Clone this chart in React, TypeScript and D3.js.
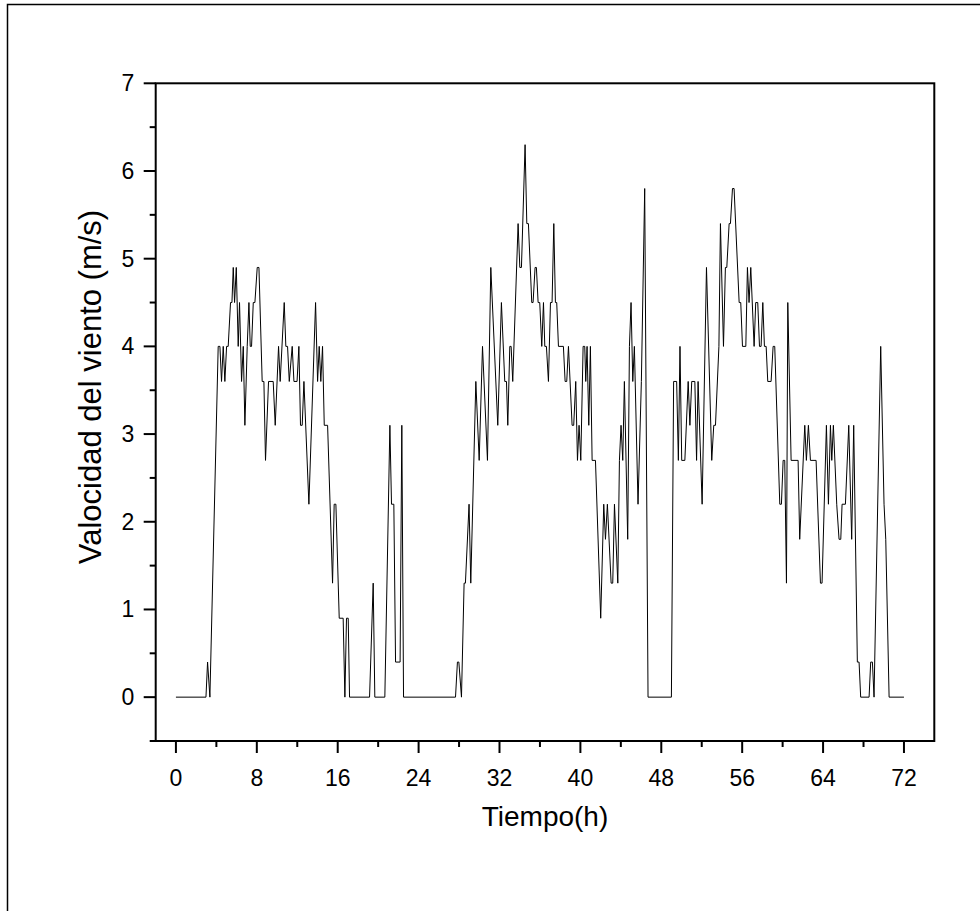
import React from 'react';
import * as d3 from 'd3';

// Wind speed series (vertices): time in hours, speed in m/s
const hours = [
  0, 2.97, 3.13, 3.36, 4.18, 4.35, 4.51, 4.68, 4.84, 5.01, 5.17, 5.40, 5.54, 5.67, 5.80, 5.97,
  6.16, 6.29, 6.49, 6.66, 6.82, 7.05, 7.22, 7.35, 7.48, 7.65, 7.81, 8.04, 8.21, 8.53, 8.70, 8.86,
  9.16, 9.62, 9.82, 10.15, 10.31, 10.71, 10.87, 11.04, 11.21, 11.50, 11.67, 11.98, 12.16, 12.32,
  12.49, 12.66, 13.15, 13.81, 14.01, 14.17, 14.33, 14.50, 14.67, 15.00, 15.49, 15.65, 15.82, 16.15,
  16.54, 16.71, 16.87, 17.04, 17.17, 19.15, 19.51, 19.67, 20.66, 21.16, 21.32, 21.55, 21.72, 22.17,
  22.34, 22.51, 27.65, 27.84, 27.98, 28.24, 28.50, 28.63, 28.99, 29.16, 29.66, 29.99, 30.32, 30.81,
  31.14, 31.83, 32.19, 32.52, 32.69, 32.82, 33.02, 33.15, 33.31, 33.84, 34.01, 34.17, 34.53, 34.70,
  34.86, 35.19, 35.32, 35.52, 35.65, 35.82, 35.98, 36.18, 36.35, 36.48, 36.64, 36.84, 37.04, 37.20,
  37.37, 37.53, 37.66, 37.83, 38.32, 38.49, 38.65, 38.82, 39.18, 39.34, 39.54, 39.71, 39.87, 40.04,
  40.27, 40.43, 40.53, 40.66, 40.83, 40.99, 41.16, 41.49, 42.01, 42.31, 42.48, 42.67, 43.04, 43.20,
  43.37, 43.70, 43.86, 44.02, 44.19, 44.35, 44.68, 44.85, 45.01, 45.18, 45.34, 45.70, 46.03, 46.36,
  46.69, 49.00, 49.22, 49.52, 49.69, 49.85, 50.02, 50.33, 50.66, 50.83, 51.01, 51.32, 51.49, 51.64,
  52.04, 52.47, 52.99, 53.19, 53.36, 53.70, 53.85, 54.15, 54.34, 54.48, 54.71, 54.84, 55.04, 55.20,
  55.70, 55.86, 56.03, 56.36, 56.52, 56.68, 56.85, 57.18, 57.34, 57.54, 57.71, 57.87, 58.04, 58.20,
  58.37, 58.53, 58.86, 59.06, 59.22, 59.72, 59.88, 60.05, 60.21, 60.38, 60.51, 60.84, 61.53, 61.69,
  62.19, 62.35, 62.55, 62.75, 63.31, 63.74, 63.90, 64.33, 64.53, 64.73, 64.86, 65.02, 65.35, 65.58,
  65.75, 65.88, 66.21, 66.54, 66.83, 67.03, 67.39, 67.56, 67.72, 68.55, 68.71, 68.88, 69.04, 69.70,
  70.03, 70.20, 70.53, 72.00,
];

const speed = [
  0, 0, 0.4, 0, 4.0, 4.0, 3.6, 4.0, 3.6, 4.0, 4.0, 4.5, 4.5, 4.9, 4.5, 4.9,
  4.0, 4.5, 3.6, 4.0, 3.1, 4.0, 4.5, 4.0, 4.0, 4.5, 4.5, 4.9, 4.9, 3.6, 3.6, 2.7,
  3.6, 3.6, 3.1, 4.0, 3.6, 4.5, 4.0, 4.0, 3.6, 4.0, 3.6, 3.6, 4.0, 3.1,
  3.1, 3.6, 2.2, 4.5, 3.6, 4.0, 3.6, 4.0, 3.1, 3.1, 1.3, 2.2, 2.2, 0.9,
  0.9, 0, 0.9, 0.9, 0, 0, 1.3, 0, 0, 3.1, 2.2, 2.2, 0.4, 0.4,
  3.1, 0, 0, 0.4, 0.4, 0, 1.3, 1.3, 2.2, 1.3, 3.6, 2.7, 4.0, 2.7,
  4.9, 3.1, 4.5, 3.6, 3.6, 3.1, 4.0, 4.0, 3.6, 5.4, 4.9, 4.9, 6.3, 5.4,
  5.4, 4.5, 4.5, 4.9, 4.9, 4.5, 4.5, 4.0, 4.5, 4.0, 4.0, 3.6, 4.5, 4.5,
  5.4, 4.5, 4.5, 4.0, 4.0, 3.6, 3.6, 4.0, 3.1, 3.1, 3.6, 2.7, 3.1, 2.7,
  4.0, 4.0, 3.6, 4.0, 3.1, 4.0, 2.7, 2.7, 0.9, 2.2, 1.8, 2.2, 1.3, 1.3,
  2.2, 1.3, 2.7, 3.1, 2.7, 3.6, 1.8, 4.0, 4.5, 3.6, 4.0, 2.2, 3.6, 5.8,
  0, 0, 3.6, 3.6, 2.7, 4.0, 2.7, 2.7, 3.6, 3.1, 3.6, 3.6, 2.7, 3.6,
  2.2, 4.9, 2.7, 3.1, 3.1, 4.0, 5.4, 4.0, 4.9, 4.9, 5.4, 5.4, 5.8, 5.8,
  4.5, 4.5, 4.0, 4.0, 4.9, 4.5, 4.9, 4.0, 4.5, 4.5, 4.0, 4.0, 4.5, 4.0,
  4.0, 3.6, 3.6, 4.0, 4.0, 2.2, 2.2, 2.7, 2.7, 1.3, 4.5, 2.7, 2.7, 1.8,
  3.1, 2.7, 3.1, 2.7, 2.7, 1.3, 1.3, 3.1, 2.2, 3.1, 2.7, 3.1, 2.2, 1.8,
  1.8, 2.2, 2.2, 3.1, 1.8, 3.1, 0.4, 0.4, 0, 0, 0.4, 0.4, 0, 4.0,
  2.2, 1.8, 0, 0,
];

const xMajorTicks = [0, 8, 16, 24, 32, 40, 48, 56, 64, 72];
const xMinorTicks = [4, 12, 20, 28, 36, 44, 52, 60, 68];
const yMajorTicks = [0, 1, 2, 3, 4, 5, 6, 7];
const yMinorTicks = [-0.5, 0.5, 1.5, 2.5, 3.5, 4.5, 5.5, 6.5];
const xTitle = 'Tiempo(h)';
const yTitle = 'Valocidad del viento (m/s)';

const FONT = '"Liberation Sans", Arial, Helvetica, sans-serif';

export default function App() {
  const W = 980;
  const H = 911;
  const left = 155.7;
  const right = 934.3;
  const top = 83.3;
  const bottom = 741;

  const x = d3.scaleLinear().domain([-2, 75]).range([left, right]);
  const y = d3.scaleLinear().domain([-0.5, 7]).range([bottom, top]);

  const pts: [number, number][] = hours.map((h, i) => [h, speed[i]]);
  const path = d3
    .line<[number, number]>()
    .x((d) => x(d[0]))
    .y((d) => y(d[1]))(pts) as string;

  const majorLen = 12;
  const minorLen = 6;

  return (
    <svg
      width={W}
      height={H}
      style={{ position: 'absolute', left: 0, top: 0, background: '#fff' }}
      xmlns="http://www.w3.org/2000/svg"
    >
      <rect x={0} y={0} width={W} height={H} fill="#fff" />
      {/* outer page frame */}
      <rect x={7.5} y={4.5} width={1100} height={1100} fill="none" stroke="#000" strokeWidth={1.5} />

      {/* data line */}
      <path d={path} fill="none" stroke="#000" strokeWidth={1} strokeLinejoin="miter" />

      {/* plot frame */}
      <rect
        x={left}
        y={top}
        width={right - left}
        height={bottom - top}
        fill="none"
        stroke="#000"
        strokeWidth={2}
      />

      {/* x ticks */}
      {xMajorTicks.map((t) => (
        <g key={'xM' + t}>
          <line x1={x(t)} x2={x(t)} y1={bottom} y2={bottom + majorLen} stroke="#000" strokeWidth={2} />
          <text
            x={x(t)}
            y={bottom + 44.5}
            textAnchor="middle"
            fontFamily={FONT}
            fontSize={23}
            fill="#000"
          >
            {t}
          </text>
        </g>
      ))}
      {xMinorTicks.map((t) => (
        <line key={'xm' + t} x1={x(t)} x2={x(t)} y1={bottom} y2={bottom + minorLen} stroke="#000" strokeWidth={2} />
      ))}

      {/* y ticks */}
      {yMajorTicks.map((t) => (
        <g key={'yM' + t}>
          <line x1={left - majorLen} x2={left} y1={y(t)} y2={y(t)} stroke="#000" strokeWidth={2} />
          <text
            x={left - 21.5}
            y={y(t) + 8}
            textAnchor="end"
            fontFamily={FONT}
            fontSize={23}
            fill="#000"
          >
            {t}
          </text>
        </g>
      ))}
      {yMinorTicks.map((t) => (
        <line key={'ym' + t} x1={left - minorLen} x2={left} y1={y(t)} y2={y(t)} stroke="#000" strokeWidth={2} />
      ))}

      {/* axis titles */}
      <text
        x={(left + right) / 2}
        y={826}
        textAnchor="middle"
        fontFamily={FONT}
        fontSize={28}
        fill="#000"
      >
        {xTitle}
      </text>
      <text
        transform={`translate(101, 387) rotate(-90)`}
        textAnchor="middle"
        fontFamily={FONT}
        fontSize={31}
        fill="#000"
      >
        {yTitle}
      </text>
    </svg>
  );
}
